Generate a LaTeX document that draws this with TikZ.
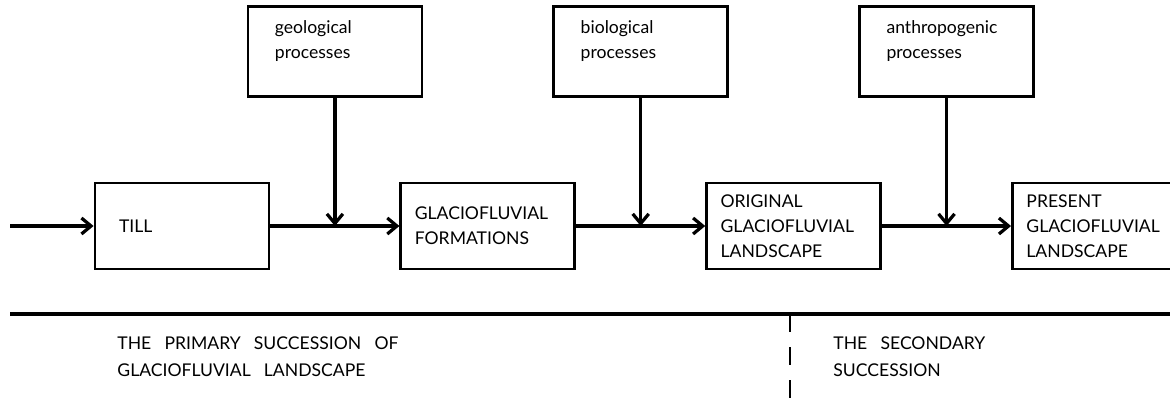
\documentclass[tikz,border=0pt]{standalone}
\usepackage{fontspec}
\setmainfont{Lato}
\usetikzlibrary{positioning,chains,arrows.meta,calc}
\newcommand\widewords{\spaceskip 0.75em\relax}

\begin{document}
\begin{tikzpicture}[
  line width=2pt,
  every node/.style={font=\fontsize{12.5}{17.7}\selectfont},
  stagebox/.style={draw,minimum height=2.15cm,text width=3.65cm,inner xsep=0.35cm,align=flush left},
  procbox/.style={draw,minimum width=4.35cm,minimum height=2.25cm},
  proctext/.style={anchor=base west,inner sep=0pt,align=flush left},
  sumtext/.style={anchor=base west,inner sep=0pt,align=flush left,
    font=\fontsize{12.5}{19}\selectfont\widewords},
  flow/.style={-{Straight Barb[length=2.4mm,width=4mm]},line width=2.3pt}
]
\useasboundingbox (0,0) rectangle (29.25,9.95);

% Stages
\begin{scope}[start chain=going right,node distance=3.225cm]
\node[stagebox,on chain,text width=3.15cm,inner xsep=0.6cm] (till) at (4.55,4.3) {TILL};
\node[stagebox,on chain] (formations) {GLACIOFLUVIAL\\FORMATIONS};
\node[stagebox,on chain] (original) {ORIGINAL\\GLACIOFLUVIAL\\LANDSCAPE};
\node[stagebox,on chain] (present) {PRESENT\\GLACIOFLUVIAL\\LANDSCAPE};
\end{scope}

% Junctions
\coordinate (start) at (0.25,4.3);
\coordinate (j1) at ($(till.east)!0.5!(formations.west)$);
\coordinate (j2) at ($(formations.east)!0.5!(original.west)$);
\coordinate (j3) at ($(original.east)!0.5!(present.west)$);

% Processes
\node[procbox,above=3.2cm of j1] (geo) {};
\node[procbox,above=3.2cm of j2] (bio) {};
\node[procbox,above=3.2cm of j3] (anthro) {};
\node[proctext] (geotext) at ([xshift=0.675cm,yshift=-1.325cm]geo.north west) {geological\\processes};
\node[proctext] (biotext) at ([xshift=0.675cm,yshift=-1.325cm]bio.north west) {biological\\processes};
\node[proctext] (anthrotext) at ([xshift=0.675cm,yshift=-1.325cm]anthro.north west) {anthropogenic\\processes};

% Edges
\draw[flow] (start) -- (till);
\draw[flow] (till) -- (formations);
\draw[flow] (formations) -- (original);
\draw[flow] (original) -- (present);
\draw[flow] (geo) -- (j1);
\draw[flow] (bio) -- (j2);
\draw[flow] (anthro) -- (j3);

% Successions
\coordinate (baseleft) at (0.25,2.1);
\coordinate (baseright) at (29.25,2.1);
\coordinate (splittop) at (19.75,2.1);
\coordinate (splitbottom) at (19.75,0);
\draw[line width=2.3pt] (baseleft) -- (baseright);
\draw[dash pattern=on 0.45cm off 0.38cm] (splittop) -- (splitbottom);
\node[sumtext] (primary) at (2.9,0.55) {THE PRIMARY SUCCESSION OF\\GLACIOFLUVIAL LANDSCAPE};
\node[sumtext] (secondary) at (20.8,0.55) {THE SECONDARY\\SUCCESSION};
\end{tikzpicture}
\end{document}
